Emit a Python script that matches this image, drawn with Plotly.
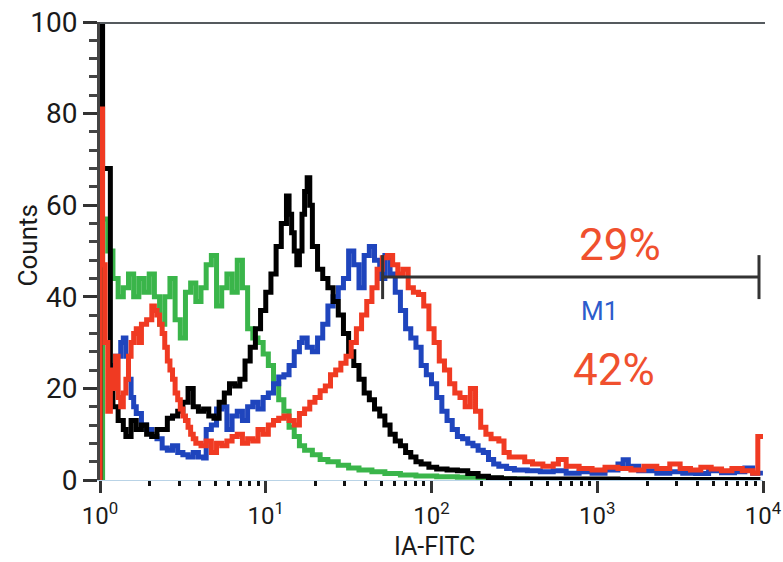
import plotly.graph_objects as go

# ---- data (FACS log channels: 256 channels over 4 decades) ----
green_ch = [0, 1, 3, 5, 7, 9, 11, 13, 15, 17, 19, 21, 23, 25, 27, 29, 31, 33, 35, 37, 39,
            41, 43, 45, 47, 49, 51, 53, 55, 57, 59, 61, 63, 65, 67, 69, 71, 73, 75, 77, 79,
            82, 85, 88, 92, 96, 100, 105, 110, 116, 122, 130, 138, 146, 155, 165, 175]
green_ct = [0, 57, 50, 44, 40, 42, 45, 40, 44, 41, 45, 40, 34, 40, 44, 35, 31, 41, 43, 39, 42,
            47, 49, 38, 42, 45, 41, 48, 42, 33, 31, 30, 27.5, 25, 21, 17.5, 15, 11.5, 9.5, 7.5, 6.5,
            5.5, 4.5, 4, 3.2, 2.6, 2.2, 1.8, 1.4, 1.1, 0.9, 0.7, 0.6, 0.4, 0.2, 0.1, 0]

blue_ch = [4, 6, 8, 9, 10, 11, 12, 13, 14, 16, 18, 20, 22, 24, 26, 28, 30, 32, 34, 36, 38,
           40, 41, 43, 45, 47, 49, 51, 53, 55, 57, 59, 61, 63, 65, 67, 69, 71, 73, 75, 77,
           78, 80, 82, 84, 86, 88, 90, 92, 94, 96, 98, 100, 102, 104, 106, 108, 110, 112, 114,
           116, 118, 120, 122, 124, 126, 128, 130, 132, 134, 136, 138, 140, 142, 144, 146, 148,
           150, 152, 154, 157, 160, 165, 170, 175, 180, 185, 190, 195, 200, 202, 204, 208, 215,
           220, 225, 230, 235, 240, 245, 249, 252, 255]
blue_ct = [25, 27, 30, 31, 27, 22, 18, 16, 14.5, 12, 11, 9.5, 9, 7, 6.5, 7.5, 6, 5.5, 5, 6, 5,
           4.8, 11, 12, 15.5, 16, 11, 14, 15, 13, 16, 17, 15.5, 18, 19, 21, 22.5, 23, 25, 28, 30,
           31, 29, 28, 31, 34, 38, 40, 42, 44, 50, 47, 42, 49, 51, 48, 44, 49, 45, 41,
           37, 33, 31, 29, 25, 23, 21, 18, 15, 13, 11, 9.5, 9, 8, 7.5, 6.5, 6,
           4.5, 3.5, 3, 2.5, 2.2, 2, 1.8, 2, 1.5, 1.8, 1.5, 2.2, 3.5, 4.4, 3, 2, 1.5,
           1.8, 1.5, 1.4, 2, 1.6, 1.8, 2.6, 1.5, 1]

black_ch = [0, 0, 1, 4, 5, 7, 9, 10, 12, 14, 16, 18, 20, 22, 24, 26, 28, 30, 32, 34, 36, 38,
            40, 42, 44, 46, 48, 50, 52, 54, 56, 58, 60, 62, 64, 66, 68, 70, 72, 73, 74, 75, 76,
            77, 78, 79, 80, 81, 82, 84, 86, 88, 90, 92, 94, 96, 98, 100, 102, 104, 106, 108,
            110, 112, 114, 116, 118, 120, 122, 124, 127, 130, 134, 138, 142, 146, 150, 155,
            160, 200, 255]
black_ct = [0, 99, 68, 23, 16, 13, 11, 9.5, 13, 11, 12, 10, 9.5, 11, 11, 13.5, 14, 15, 17, 20, 16, 15,
            15.5, 14, 13.5, 17, 19, 21, 20.5, 22, 26, 29, 33, 37, 41, 45, 51, 56, 62, 58, 54, 50, 47,
            50, 58, 63, 66, 60, 51, 46, 44, 42, 39, 36, 32, 28, 25, 22, 19, 17.5, 15.5, 14,
            12, 10, 8.5, 7.5, 6, 5, 4, 3.5, 2.8, 2.4, 2.2, 2, 1.4, 0.8, 0.5, 0.3,
            0.2, 0.1, 0.1]

red_ch = [0, 0, 1, 2, 3, 4, 5, 6, 7, 8, 9, 10, 11, 12, 13, 14, 15, 16, 18, 20, 21, 22, 23, 24,
          25, 26, 27, 28, 29, 30, 31, 32, 33, 34, 35, 36, 37, 39, 41, 43, 45, 47, 49, 51, 53,
          55, 57, 59, 61, 63, 65, 67, 69, 71, 73, 75, 77, 79, 81, 83, 85, 87, 89, 91, 93, 95,
          97, 99, 101, 103, 105, 107, 109, 111, 113, 115, 117, 119, 121, 123, 125, 127, 129,
          131, 133, 135, 137, 139, 141, 143, 145, 147, 149, 151, 154, 156, 158, 161, 164, 167,
          171, 175, 177, 180, 185, 190, 195, 200, 205, 210, 215, 220, 224, 228, 232, 236, 240,
          244, 248, 252, 254, 256]
red_ct = [0, 81, 47, 30, 15, 24, 20, 27, 18, 16, 19, 22, 27, 30, 32, 33, 30, 34, 35, 38, 37, 36, 34, 32,
          29, 26, 24, 22, 19, 17.5, 15.5, 14, 13, 11.5, 10, 9, 8, 7.5, 8.5, 6, 8, 7.5, 8.5, 9.5, 10,
          8, 9, 8.5, 11, 10, 12, 13, 13.5, 14, 13, 12, 14.5, 15.5, 17, 18, 19.5, 20.5, 23, 24, 25.5, 27,
          30, 33, 36, 39, 42, 46, 48.5, 49, 47, 45, 46, 42, 41, 40.5, 38, 33, 30,
          26, 24, 21, 19, 18, 16, 20, 15, 11.5, 10, 9, 8.5, 6, 5, 5, 4, 3.5,
          3, 3.5, 4.5, 3, 2.5, 2.2, 2.8, 2.5, 2.2, 3, 2.5, 3.5, 2.5, 2.2, 2.8, 2.4, 2,
          2.5, 2, 1.5, 9.5, 9.5]

# M1 gate marker
m1_start = 50.7
m1_end = 9460
m1_level = 44.3
m1_half_tick = 4.8

y_major = [0, 20, 40, 60, 80, 100]
x_major = [1, 10, 100, 1000, 10000]
x_major_text = ["10<sup>0</sup>", "10<sup>1</sup>", "10<sup>2</sup>", "10<sup>3</sup>", "10<sup>4</sup>"]
x_minor = [m * d for d in (1, 10, 100, 1000) for m in range(2, 10)]

CH_PER_DECADE = 64


def to_x(chs):
    return [10 ** (c / CH_PER_DECADE) for c in chs]


FONT = "Roboto, Liberation Sans, sans-serif"

fig = go.Figure()
series = [
    (green_ch, green_ct, "#3ab54a"),
    (blue_ch, blue_ct, "#1f45bd"),
    (black_ch, black_ct, "#000000"),
    (red_ch, red_ct, "#f03a22"),
]
for ch, ct, col in series:
    fig.add_trace(go.Scatter(x=to_x(ch), y=ct, mode="lines",
                             line=dict(color=col, width=5, shape="hv"),
                             showlegend=False, hoverinfo="skip"))

# M1 marker
fig.add_trace(go.Scatter(x=[m1_start, m1_end], y=[m1_level, m1_level], mode="lines",
                         line=dict(color="#333333", width=3), showlegend=False))
for xv in (m1_start, m1_end):
    fig.add_trace(go.Scatter(x=[xv, xv], y=[m1_level - m1_half_tick, m1_level + m1_half_tick],
                             mode="lines", line=dict(color="#333333", width=3), showlegend=False))

fig.update_layout(
    width=783, height=562,
    margin=dict(l=100, r=20, t=22, b=82, autoexpand=False),
    paper_bgcolor="white", plot_bgcolor="white",
    font=dict(family=FONT, color="#1a1a1a"),
    xaxis=dict(type="log", range=[0, 4], showgrid=False, zeroline=False, automargin=False,
               showline=True, linecolor="#b9d3e6", linewidth=1,
               tickmode="array", tickvals=x_major, ticktext=x_major_text,
               ticks="outside", ticklen=12, tickwidth=3, tickcolor="#333333",
               ticklabelstandoff=2,
               tickfont=dict(size=24, family=FONT, color="#1a1a1a"),
               minor=dict(tickmode="array", tickvals=x_minor, ticks="outside",
                          ticklen=5, tickwidth=3, tickcolor="#111111", showgrid=False)),
    yaxis=dict(range=[0, 100], showgrid=False, zeroline=False, automargin=False,
               showline=True, linecolor="#444444", linewidth=3,
               tickmode="array", tickvals=y_major,
               ticks="outside", ticklen=14, tickwidth=3, tickcolor="#333333",
               tickfont=dict(size=28, family=FONT, color="#1a1a1a"),
               minor=dict(dtick=4, ticks="outside", ticklen=8, tickwidth=3,
                          tickcolor="#444444", showgrid=False)),
    shapes=[dict(type="line", xref="paper", yref="y", x0=0, x1=1.003, y0=100, y1=100,
                 line=dict(color="#555a5e", width=4))],
    annotations=[
        dict(text="Counts", xref="paper", yref="paper", x=-0.108, y=0.513, textangle=-90,
             xanchor="center", yanchor="middle",
             showarrow=False, font=dict(size=26, family=FONT, color="#1a1a1a")),
        dict(text="IA-FITC", xref="paper", yref="paper", x=0.504, y=-0.145,
             xanchor="center", yanchor="middle",
             showarrow=False, font=dict(size=25, family=FONT, color="#1a1a1a")),
        dict(text="29%", xref="x", yref="y", x=3.139, y=51.3, showarrow=False,
             xanchor="center", yanchor="middle",
             font=dict(size=44, family=FONT, color="#f0502e")),
        dict(text="M1", xref="x", yref="y", x=3.012, y=36.9, showarrow=False,
             xanchor="center", yanchor="middle",
             font=dict(size=26, family=FONT, color="#2c5ccc")),
        dict(text="42%", xref="x", yref="y", x=3.102, y=24.0, showarrow=False,
             xanchor="center", yanchor="middle",
             font=dict(size=44, family=FONT, color="#f0502e")),
    ],
)

fig.write_html("out.html", config={"displayModeBar": False},
               post_script="document.body.style.margin='0px';")
